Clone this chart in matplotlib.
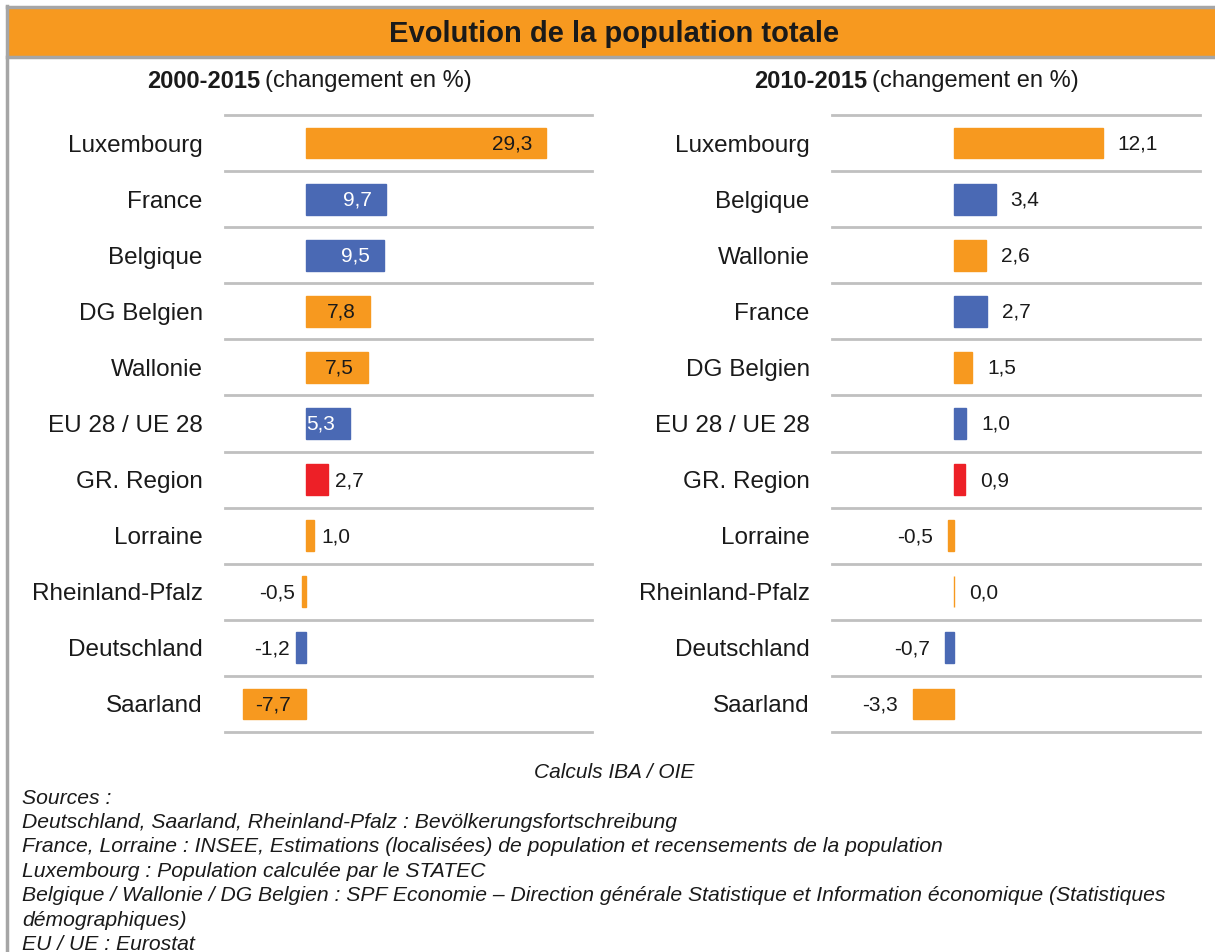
import matplotlib.pyplot as plt
from matplotlib.patches import Rectangle
from matplotlib.lines import Line2D

plt.rcParams["font.family"] = ["Liberation Sans", "DejaVu Sans"]

ORANGE = "#F7991F"
BLUE = "#4A69B4"
RED = "#ED2027"
GRID = "#C0C0C0"
FRAME = "#A6A6A6"

# 2000-2015
left_labels = ["Luxembourg", "France", "Belgique", "DG Belgien", "Wallonie", "EU 28 / UE 28",
               "GR. Region", "Lorraine", "Rheinland-Pfalz", "Deutschland", "Saarland"]
left_values = [29.3, 9.7, 9.5, 7.8, 7.5, 5.3, 2.7, 1.0, -0.5, -1.2, -7.7]

# 2010-2015
right_labels = ["Luxembourg", "Belgique", "Wallonie", "France", "DG Belgien", "EU 28 / UE 28",
                "GR. Region", "Lorraine", "Rheinland-Pfalz", "Deutschland", "Saarland"]
right_values = [12.1, 3.4, 2.6, 2.7, 1.5, 1.0, 0.9, -0.5, 0.0, -0.7, -3.3]

blue_set = {"France", "Belgique", "EU 28 / UE 28", "Deutschland"}


def bar_color(name):
    if name in blue_set:
        return BLUE
    if name == "GR. Region":
        return RED
    return ORANGE


def fmt(v):
    return f"{v:.1f}".replace(".", ",")


fig = plt.figure(figsize=(12.15, 9.52), dpi=100)

# cadre + bandeau titre
fig.add_artist(Rectangle((7 / 1215, 895 / 952), 1.0, 50 / 952, transform=fig.transFigure,
                         facecolor=ORANGE, edgecolor="none"))
fig.add_artist(Line2D([7 / 1215, 1], [945.5 / 952, 945.5 / 952], color=FRAME, lw=2.5))
fig.add_artist(Line2D([7 / 1215, 1], [895 / 952, 895 / 952], color=FRAME, lw=2.5))
fig.add_artist(Line2D([7 / 1215, 7 / 1215], [0, 946 / 952], color=FRAME, lw=2.5))
fig.text(614 / 1215, 918 / 952, "Evolution de la population totale", ha="center", va="center",
         fontsize=21, fontweight="bold", color="#1a1a1a")


def panel(rect, labels, values, xlim, inside_rule, title_x, period):
    ax = fig.add_axes(rect)
    y = list(range(len(labels)))
    colors = [bar_color(n) for n in labels]
    bars = ax.barh(y, values, height=0.55, color=colors, edgecolor=colors, linewidth=1.0)
    ax.set_xlim(*xlim)
    ax.set_ylim(len(labels) - 0.5, -0.5)
    for b in [i - 0.5 for i in range(len(labels) + 1)]:
        ax.axhline(b, color=GRID, lw=2, zorder=0, clip_on=False)
    ax.set_yticks(y)
    ax.set_yticklabels(labels, fontsize=17.5, color="#1a1a1a")
    ax.tick_params(axis="y", length=0, pad=16)
    ax.set_xticks([])
    for s in ax.spines.values():
        s.set_visible(False)

    for bar, v, n in zip(bars, values, labels):
        yc = bar.get_y() + bar.get_height() / 2
        mode = inside_rule(v)
        if mode == "inside_end":
            col = "white" if n in blue_set else "#1a1a1a"
            t = ax.annotate(fmt(v), (v, yc), xytext=(-14, -1), textcoords="offset pixels",
                            ha="right", va="center", fontsize=15, color=col)
            t.set_clip_path(bar)
        elif mode == "inside_center":
            ax.annotate(fmt(v), (v / 2, yc), xytext=(-2, -1), textcoords="offset pixels",
                        ha="center", va="center", fontsize=15, color="#1a1a1a")
        elif v >= 0:
            ax.annotate(fmt(v), (v, yc), xytext=(inside_rule.gap, -1), textcoords="offset pixels",
                        ha="left", va="center", fontsize=15, color="#1a1a1a")
        else:
            ax.annotate(fmt(v), (min(v, 0), yc), xytext=(-inside_rule.gap, -1),
                        textcoords="offset pixels", ha="right", va="center",
                        fontsize=15, color="#1a1a1a")

    fig.text(title_x, 871 / 952, period, ha="right", va="center", fontsize=17,
             fontweight="bold", color="#1a1a1a")
    fig.text(title_x + 5 / 1215, 871 / 952, "(changement en %)", ha="left", va="center",
             fontsize=17, color="#1a1a1a")
    return ax


def left_rule(v):
    if v >= 5:
        return "inside_end"
    if v <= -5:
        return "inside_center"
    return "out"


left_rule.gap = 7


def right_rule(v):
    return "out"


right_rule.gap = 15

panel([225 / 1215, 220 / 952, 367 / 1215, 617 / 952], left_labels, left_values,
      (-9.9, 34.9), left_rule, 260 / 1215, "2000-2015")
panel([832 / 1215, 220 / 952, 368 / 1215, 617 / 952], right_labels, right_values,
      (-9.9, 20.0), right_rule, 867 / 1215, "2010-2015")

fig.text(614 / 1215, (952 - 773) / 952, "Calculs IBA / OIE", ha="center", va="center",
         fontsize=15, style="italic", color="#1a1a1a")

sources = [
    "Sources :",
    "Deutschland, Saarland, Rheinland-Pfalz : Bevölkerungsfortschreibung",
    "France, Lorraine : INSEE, Estimations (localisées) de population et recensements de la population",
    "Luxembourg : Population calculée par le STATEC",
    "Belgique / Wallonie / DG Belgien : SPF Economie – Direction générale Statistique et Information économique (Statistiques",
    "démographiques)",
    "EU / UE : Eurostat",
]
for i, line in enumerate(sources):
    fig.text(22 / 1215, (952 - 798 - i * 24.4) / 952, line, ha="left", va="center",
             fontsize=15.2, style="italic", color="#1a1a1a")

fig.savefig("out.png", dpi=100, facecolor="white")
